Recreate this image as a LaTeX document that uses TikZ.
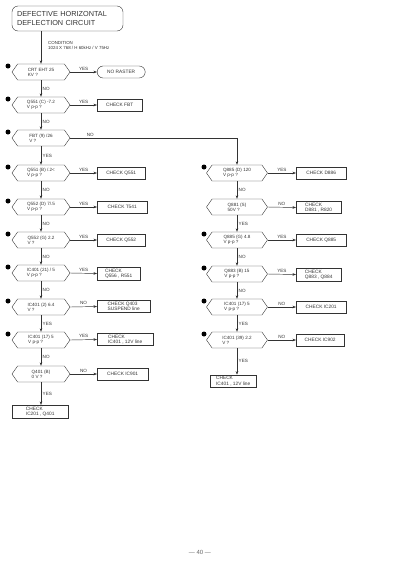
\documentclass[tikz,border=0pt]{standalone}
\usepackage{fontspec}
\setmainfont{Liberation Sans}
\usetikzlibrary{shapes.symbols,arrows.meta}
\begin{document}
\begin{tikzpicture}[x=1pt,y=-1pt,
  every node/.style={text=black!80},
  hexa/.style={draw=black!80, signal, signal to=west and east, signal pointer angle=110,
    minimum width=58pt, minimum height=16pt, inner xsep=1pt, inner ysep=0.5pt, align=left,
    font=\fontsize{4.6}{5.2}\selectfont},
  hexr/.style={hexa, minimum width=61pt},
  chk/.style={draw=black!80, rectangle, anchor=west, inner xsep=3pt, inner ysep=1.5pt,
    align=left, font=\fontsize{4.8}{5.4}\selectfont, minimum height=12pt},
  lbl/.style={font=\fontsize{4.6}{5}\selectfont, inner sep=1.5pt},
  arr/.style={draw=black!80, -{Stealth[length=3.5pt,width=2.6pt]}, line width=0.45pt},
  ln/.style={draw=black!80, line width=0.45pt},
  bullet/.style={fill=black, circle, inner sep=0pt, minimum size=5pt}
]
\useasboundingbox (0,0) rectangle (400,582);

% title
\node[draw=black!80, rounded corners=6pt, minimum height=25pt, text width=101pt,
  align=left, inner xsep=5pt, font=\fontsize{7.3}{8.2}\selectfont] (title) at (67.5,18.5)
  {DEFECTIVE HORIZONTAL\\DEFLECTION CIRCUIT};
\node[anchor=west, align=left, font=\fontsize{4.4}{5.4}\selectfont, inner sep=0pt] (cond) at (48,45.5)
  {CONDITION\\1024 X 768 / H 60kHz / V 75Hz};

% left column
\node[hexa] (h1) at (41,72)  {CRT EHT 25\\KV ?};
\node[hexa] (h2) at (41,105) {Q551 (C) -7.2\\V p-p ?};
\node[hexa] (h3) at (41,138) {FBT (9) /26\\V ?};
\node[hexa] (h4) at (41,173) {Q551 (B) /.2<\\V p-p ?};
\node[hexa] (h5) at (41,207) {Q552 (D) 7/.5\\V p-p ?};
\node[hexa] (h6) at (41,240) {Q552 (G) 2.2\\V ?};
\node[hexa] (h7) at (41,273) {IC401 (21) / 5\\V p-p ?};
\node[hexa] (h8) at (41,307) {IC401 (2) 6.4\\V ?};
\node[hexa] (h9) at (41,340) {IC401 (17) 5\\V p-p ?};
\node[hexa] (h10) at (41,374) {Q401 (B)\\0 V ?};
\node[chk, minimum width=56pt] (b11) at (12,411.5) {CHECK\\IC201 , Q401};

\coordinate (tstart) at (title.south -| h1.north);
\draw[arr] (tstart) -- (h1.north);

\node[draw=black!80, rounded corners=6pt, anchor=west, minimum width=48pt, minimum height=12pt,
  inner xsep=3pt, font=\fontsize{4.8}{5.4}\selectfont] (c1) at (97,72) {NO RASTER};
\node[chk, minimum width=45pt] (c2) at (97,105) {CHECK FBT};
\node[chk, minimum width=48pt] (c4) at (97,173) {CHECK Q551};
\node[chk, minimum width=50pt] (c5) at (97,207) {CHECK T541};
\node[chk, minimum width=48pt] (c6) at (97,240) {CHECK Q552};
\node[chk, minimum width=43pt] (c7) at (97,273.5) {CHECK\\Q556 , R551};
\node[chk, minimum width=53pt] (c8) at (97,306.5) {CHECK Q403\\SUSPEND line};
\node[chk, minimum width=56pt] (c9) at (97,339.5) {CHECK\\IC401 , 12V line};
\node[chk, minimum width=51pt] (c10) at (97,374) {CHECK IC901};

\draw[arr] (h1.east) -- node[lbl,above]{YES} (c1.west);
\draw[arr] (h2.east) -- node[lbl,above]{YES} (c2.west);
\draw[arr] (h4.east) -- node[lbl,above]{YES} (c4.west);
\draw[arr] (h5.east) -- node[lbl,above]{YES} (c5.west);
\draw[arr] (h6.east) -- node[lbl,above]{YES} (c6.west);
\draw[arr] (h7.east) -- node[lbl,above]{YES} (c7.west);
\draw[arr] (h8.east) -- node[lbl,above]{NO} (c8.west);
\draw[arr] (h9.east) -- node[lbl,above]{YES} (c9.west);
\draw[arr] (h10.east) -- node[lbl,above]{NO} (c10.west);

\draw[arr] (h1.south) -- node[lbl,right]{NO} (h2.north);
\draw[arr] (h2.south) -- node[lbl,right]{NO} (h3.north);
\draw[arr] (h3.south) -- node[lbl,right]{YES} (h4.north);
\draw[arr] (h4.south) -- node[lbl,right]{NO} (h5.north);
\draw[arr] (h5.south) -- node[lbl,right]{NO} (h6.north);
\draw[arr] (h6.south) -- node[lbl,right]{NO} (h7.north);
\draw[arr] (h7.south) -- node[lbl,right]{NO} (h8.north);
\draw[arr] (h8.south) -- node[lbl,right]{YES} (h9.north);
\draw[arr] (h9.south) -- node[lbl,right]{NO} (h10.north);
\draw[arr] (h10.south) -- node[lbl,right]{YES} (h10.south |- b11.north);

% right column
\node[hexr] (r1) at (237,173) {Q885 (D) 120\\V p-p ?};
\node[hexr] (r2) at (237,207) {Q881 (S)\\50V ?};
\node[hexr] (r3) at (237,240) {Q885 (G) 4.8\\V p-p ?};
\node[hexr] (r4) at (237,274) {Q883 (B) 15\\V p-p ?};
\node[hexr] (r5) at (237,307) {IC401 (17) 5\\V p-p ?};
\node[hexr] (r6) at (237,340) {IC401 (39) 2.2\\V ?};
\node[chk, minimum width=46pt] (r7) at (210,381) {CHECK\\IC401 , 12V line};

\node[chk, minimum width=50pt] (d1) at (296,173) {CHECK D886};
\node[chk, minimum width=45pt] (d2) at (296,207.5) {CHECK\\D881 , R820};
\node[chk, minimum width=50pt] (d3) at (296,240) {CHECK Q885};
\node[chk, minimum width=45pt] (d4) at (296,274.5) {CHECK\\Q883 , Q884};
\node[chk, minimum width=50pt] (d5) at (296,307) {CHECK IC201};
\node[chk, minimum width=48pt] (d6) at (296,340) {CHECK IC902};

\draw[arr] (r1.east) -- node[lbl,above]{YES} (d1.west);
\draw[arr] (r2.east) -- node[lbl,above]{NO} (d2.west);
\draw[arr] (r3.east) -- node[lbl,above]{YES} (d3.west);
\draw[arr] (r4.east) -- node[lbl,above]{YES} (d4.west);
\draw[arr] (r5.east) -- node[lbl,above]{NO} (d5.west);
\draw[arr] (r6.east) -- node[lbl,above]{NO} (d6.west);

\draw[arr] (r1.south) -- node[lbl,right]{NO} (r2.north);
\draw[arr] (r2.south) -- node[lbl,right]{YES} (r3.north);
\draw[arr] (r3.south) -- node[lbl,right]{NO} (r4.north);
\draw[arr] (r4.south) -- node[lbl,right]{NO} (r5.north);
\draw[arr] (r5.south) -- node[lbl,right]{YES} (r6.north);
\draw[arr] (r6.south) -- node[lbl,right]{YES} (r6.south |- r7.north);

% FBT NO branch
\coordinate (corner) at (h3.east -| r1.north);
\draw[ln] (h3.east) -- node[lbl,above,pos=0.12]{NO} (corner);
\draw[arr] (corner) -- (r1.north);

% bullets
\foreach \y in {66,99,132,167,201,234,267,301,334}
  \node[bullet] at (8,\y) {};
\foreach \y in {167,234,268,301,334}
  \node[bullet] at (204,\y) {};

% page number
\node[font=\fontsize{6}{7}\selectfont, text=black!60] (page) at (200,552) {--- 40 ---};
\end{tikzpicture}
\end{document}
